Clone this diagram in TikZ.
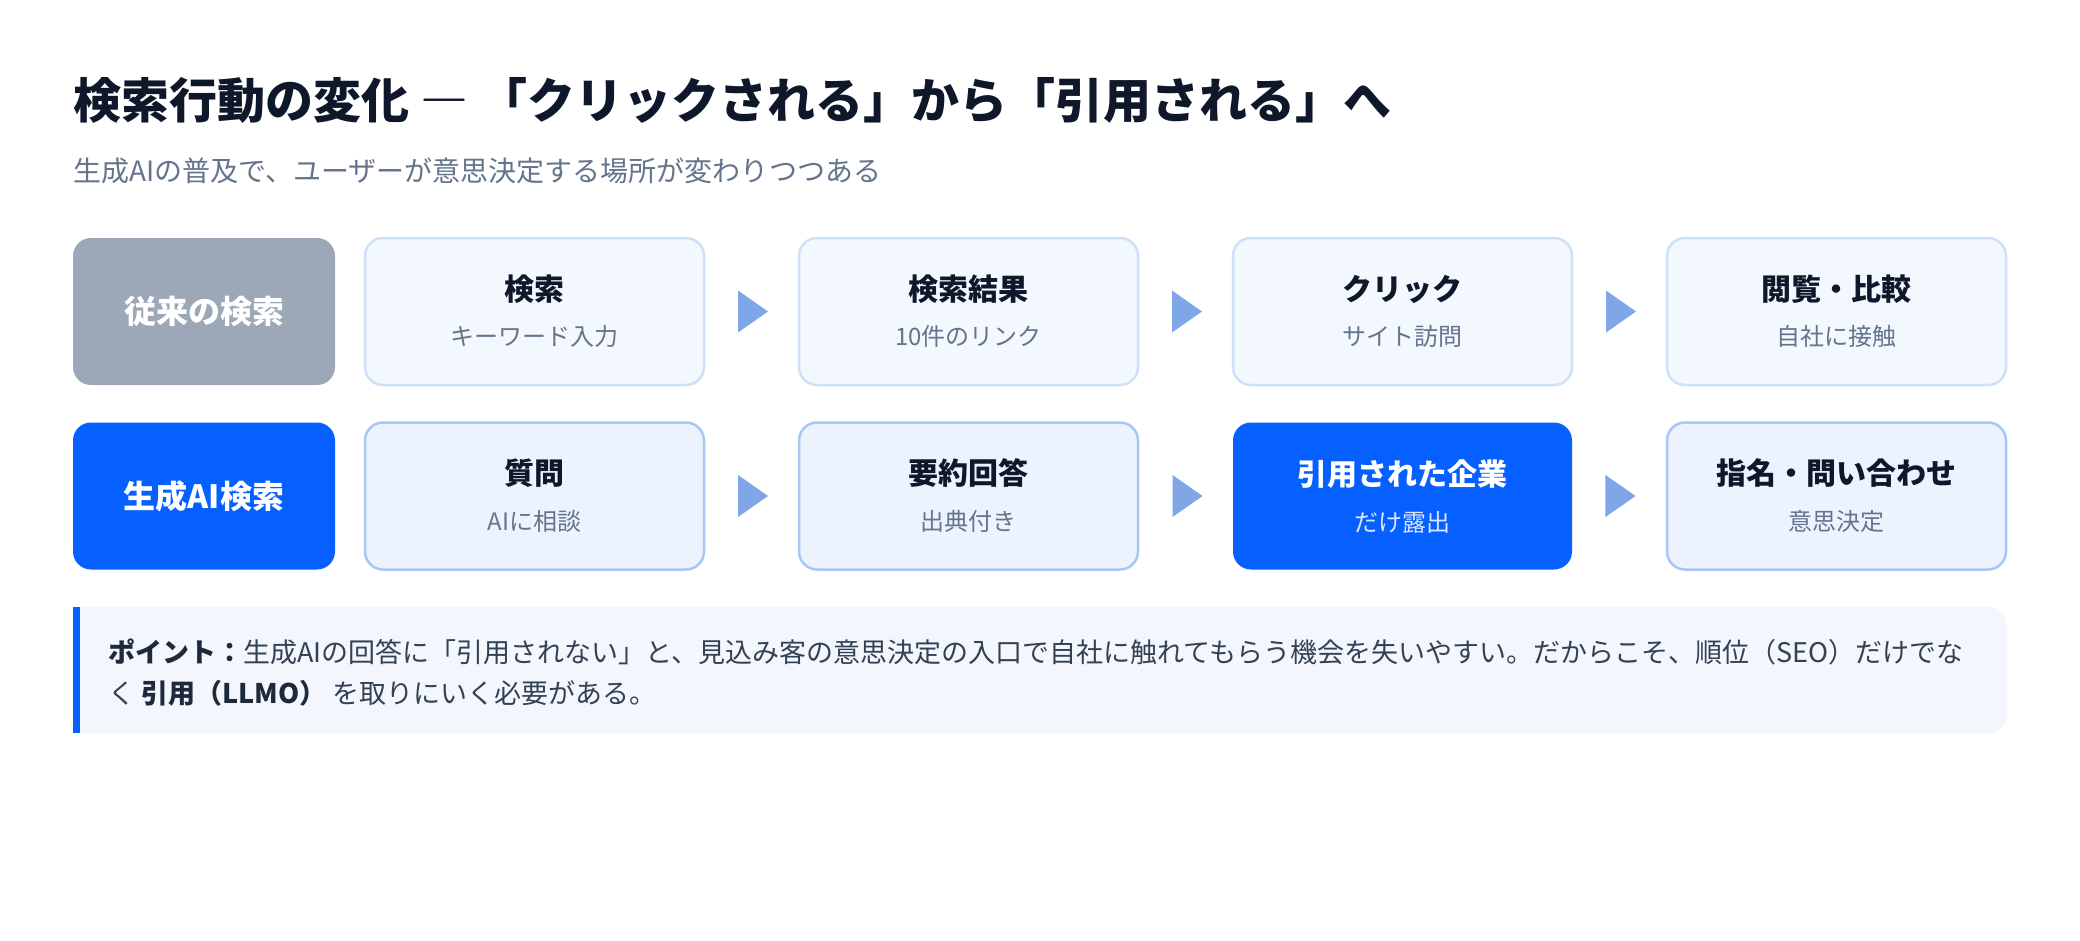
\documentclass[tikz,border=0pt]{standalone}
\usepackage{fontspec}
\setmainfont{Noto Sans CJK JP}
\usetikzlibrary{calc}
\definecolor{ink}{HTML}{0F172A}
\definecolor{inkb}{HTML}{1E293B}
\definecolor{muted}{HTML}{64748B}
\definecolor{body}{HTML}{334155}
\definecolor{grayfill}{HTML}{9CA8B8}
\definecolor{brand}{HTML}{0560FF}
\definecolor{fillA}{HTML}{F3F7FE}
\definecolor{lineA}{HTML}{CFE0FB}
\definecolor{fillB}{HTML}{EDF3FE}
\definecolor{lineB}{HTML}{A9C6F5}
\definecolor{arrowc}{HTML}{7FA6E6}
\definecolor{calfill}{HTML}{F3F7FD}
\definecolor{subhi}{HTML}{DCE7FF}
\newcommand\fsz[1]{\fontsize{#1}{#1}\selectfont}
\newcommand\mktri[2]{%
  \coordinate (#1#2m) at ($(#1.east)!0.5!(#2.west)$);
  \fill[arrowc] ($(#1#2m)+(-13.5,-21)$) -- ($(#1#2m)+(16.5,0)$) -- ($(#1#2m)+(-13.5,21)$) -- cycle;}
\begin{document}
\begin{tikzpicture}[x=1pt,y=-1pt,
  ttl/.style={inner sep=0pt, font=\bfseries\fsz{48}, text=ink, text height=42pt, text depth=6pt},
  subt/.style={inner sep=0pt, font=\fsz{28}, text=muted, text height=24.6pt, text depth=3.4pt},
  stt/.style={inner sep=0pt, font=\bfseries\fsz{30}, text=ink, text height=26.4pt, text depth=3.6pt},
  sst/.style={inner sep=0pt, font=\fsz{24}, text=muted, text height=21.1pt, text depth=2.9pt},
  lbl/.style={inner sep=0pt, font=\bfseries\fsz{32}, text=white, text height=28.2pt, text depth=3.8pt},
  cal/.style={inner sep=0pt, font=\fsz{27}, text=body, text height=23.8pt, text depth=3.2pt},
  boxbase/.style={rectangle, rounded corners=18pt, minimum width=339pt, minimum height=147pt, inner sep=0pt},
  stepA/.style={boxbase, fill=fillA, draw=lineA, line width=2.5pt},
  stepB/.style={boxbase, fill=fillB, draw=lineB, line width=2.5pt},
  stepH/.style={boxbase, fill=brand},
  labelbox/.style={boxbase, minimum width=262pt}
]
\fill[white] (0,0) rectangle (2080,940);
\useasboundingbox (0,0) rectangle (2080,940);

% title
\node[ttl, anchor=west] (title) at (73,100) {検索行動の変化 ― 「クリックされる」から「引用される」へ};
\node[subt, anchor=west] (subtitle) at (73,171) {生成AIの普及で、ユーザーが意思決定する場所が変わりつつある};

% row 1
\node[labelbox, fill=grayfill] (la) at (204,311.5) {};
\node[lbl] (lat) at (la.center) {従来の検索};
\node[stepA] (a1) at (534.5,311.5) {};
\node[stepA] (a2) at (968.5,311.5) {};
\node[stepA] (a3) at (1402.5,311.5) {};
\node[stepA] (a4) at (1836.5,311.5) {};
\node[stt] (a1t) at ($(a1.north)+(0,52)$) {検索};
\node[sst] (a1s) at ($(a1.north)+(0,100)$) {キーワード入力};
\node[stt] (a2t) at ($(a2.north)+(0,52)$) {検索結果};
\node[sst] (a2s) at ($(a2.north)+(0,100)$) {10件のリンク};
\node[stt] (a3t) at ($(a3.north)+(0,52)$) {クリック};
\node[sst] (a3s) at ($(a3.north)+(0,100)$) {サイト訪問};
\node[stt] (a4t) at ($(a4.north)+(0,52)$) {閲覧・比較};
\node[sst] (a4s) at ($(a4.north)+(0,100)$) {自社に接触};
\mktri{a1}{a2}
\mktri{a2}{a3}
\mktri{a3}{a4}

% row 2
\node[labelbox, fill=brand] (lb) at (204,496) {};
\node[lbl] (lbt) at (lb.center) {生成AI検索};
\node[stepB] (b1) at (534.5,496) {};
\node[stepB] (b2) at (968.5,496) {};
\node[stepH] (b3) at (1402.5,496) {};
\node[stepB] (b4) at (1836.5,496) {};
\node[stt] (b1t) at ($(b1.north)+(0,52)$) {質問};
\node[sst] (b1s) at ($(b1.north)+(0,100)$) {AIに相談};
\node[stt] (b2t) at ($(b2.north)+(0,52)$) {要約回答};
\node[sst] (b2s) at ($(b2.north)+(0,100)$) {出典付き};
\node[stt, text=white] (b3t) at ($(b3.north)+(0,52)$) {引用された企業};
\node[sst, text=subhi] (b3s) at ($(b3.north)+(0,100)$) {だけ露出};
\node[stt] (b4t) at ($(b4.north)+(0,52)$) {指名・問い合わせ};
\node[sst] (b4s) at ($(b4.north)+(0,100)$) {意思決定};
\mktri{b1}{b2}
\mktri{b2}{b3}
\mktri{b3}{b4}

% callout
\fill[calfill, rounded corners=18pt] (73,607) rectangle (2007,733);
\fill[calfill] (73,607) rectangle (120,733);
\fill[brand] (73,607) rectangle (80,733);
\node[cal, anchor=west] (c1) at (108,652) {{\bfseries\color{inkb}ポイント：}生成AIの回答に「引用されない」と、見込み客の意思決定の入口で自社に触れてもらう機会を失いやすい。だからこそ、順位（SEO）だけでな};
\node[cal, anchor=west] (c2) at (108,693) {く {\bfseries\color{inkb}引用（LLMO）} を取りにいく必要がある。};
\end{tikzpicture}
\end{document}
